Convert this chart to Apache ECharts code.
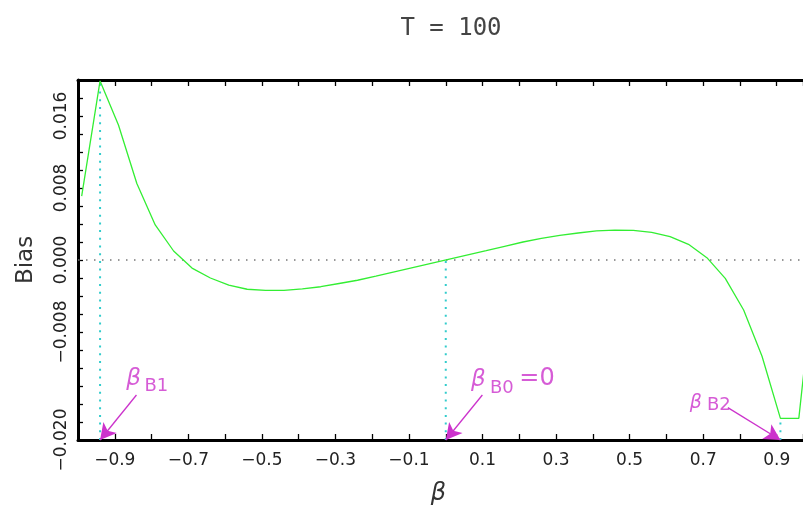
<!DOCTYPE html>
<html>
<head>
<meta charset="utf-8">
<script src="https://cdn.jsdelivr.net/npm/echarts@6/dist/echarts.min.js"></script>
<style>html,body{margin:0;padding:0;background:#fff;}#c{width:803px;height:511px;}</style>
</head>
<body>
<div id="c"></div>
<script>
// ---- data ----
const beta = [-0.99,-0.94,-0.89,-0.84,-0.79,-0.74,-0.69,-0.64,-0.59,-0.54,
  -0.49,-0.44,-0.39,-0.34,-0.29,-0.24,-0.19,-0.14,-0.09,-0.04,
  0.01,0.06,0.11,0.16,0.21,0.26,0.31,0.36,0.41,0.46,
  0.51,0.56,0.61,0.66,0.71,0.76,0.81,0.86,0.91,0.96,1.01];
const bias = [0.0071,0.0199,0.0150,0.0085,0.0039,0.0010,-0.0009,-0.0020,-0.0028,-0.00325,
  -0.00338,-0.00338,-0.0032,-0.00297,-0.00261,-0.00225,-0.0018,-0.00132,-0.00085,-0.00038,
  0.00009,0.00056,0.00103,0.00152,0.0020,0.0024,0.00273,0.0030,0.00323,0.00331,
  0.0033,0.00307,0.00259,0.00174,0.00026,-0.00204,-0.00556,-0.0107,-0.0176,-0.0176,0.0012];
const xLabelValues = [-0.9,-0.7,-0.5,-0.3,-0.1,0.1,0.3,0.5,0.7,0.9];
const yLabelValues = [-0.020,-0.008,0.000,0.008,0.016];
const roots = [
  {name:'B1', beta:-0.94, bias:0.0199, extra:''},
  {name:'B0', beta:0.00, bias:0.0, extra:'=0'},
  {name:'B2', beta:0.91, bias:-0.0176, extra:''}
];

const X_MIN=-1.0, X_MAX=0.9714, Y_MIN=-0.020, Y_MAX=0.020;
const MAG='#cc33cc';
const FONT='DejaVu Sans';
const minus = v => (v < -1e-12 ? '\u2212' : '');

const chart = echarts.init(document.getElementById('c'), null, {renderer:'canvas'});

// annotation placement (arrow tail and text anchors, data units)
const annot = [
  {tail:[-0.841,-0.0150], beta:[-0.849,-0.01322], sub:[-0.787,-0.01406], ext:null},
  {tail:[0.0995,-0.0150], beta:[0.0886,-0.01333], sub:[0.1526,-0.01422], ext:[0.248,-0.01322]},
  {tail:[0.767,-0.0164], beta:[0.680,-0.01589], sub:[0.7425,-0.01617], ext:null}
];

const textPts = [];
roots.forEach((r,i)=>{
  const a = annot[i];
  textPts.push({value:a.beta, label:{formatter:'\u03B2', fontSize: i===2?19:23, fontStyle:'italic'}});
  textPts.push({value:a.sub, label:{formatter:r.name, fontSize:18}});
  if (r.extra) textPts.push({value:a.ext, label:{formatter:r.extra, fontSize:24}});
});

const series = [
  {
    type:'line', name:'zero', data:[[X_MIN,0],[X_MAX,0]], symbol:'none', silent:true,
    lineStyle:{color:'#777', width:1.3, type:[1.5,6.5]}, z:1
  },
  ...roots.map(r=>({
    type:'line', data:[[r.beta,Y_MIN],[r.beta,r.bias]], symbol:'none', silent:true,
    lineStyle:{color:'#33cccc', width:2, type:[2,5.7]}, z:2
  })),
  {
    type:'line', name:'Bias', data: beta.map((b,i)=>[b,bias[i]]), symbol:'none',
    lineStyle:{color:'#33ee33', width:1.3}, z:3, clip:true,
    markLine:{
      silent:true, symbol:['none','arrow'], symbolSize:[13,16],
      lineStyle:{color:MAG, width:1.3, type:'solid'}, label:{show:false},
      data: roots.map((r,i)=>[{coord:annot[i].tail},{coord:[r.beta,Y_MIN]}])
    }
  },
  {
    type:'scatter', data:textPts, symbolSize:0, silent:true, z:5,
    label:{show:true, position:'inside', color:MAG, fontFamily:FONT}
  }
];

chart.setOption({
  animation:false,
  backgroundColor:'#fff',
  title:{text:'T = 100', left:446, top:12, textAlign:'center',
    textStyle:{fontFamily:'DejaVu Sans Mono', fontSize:24, fontWeight:'normal', color:'#444'}},
  grid:{left:78, top:80, right:0, height:360},
  xAxis:[{
    type:'value', min:X_MIN, max:X_MAX, interval:0.1, position:'bottom',
    name:'\u03B2', nameLocation:'start', nameGap:-368, nameTextStyle:{fontFamily:FONT, fontSize:24, fontStyle:'italic', color:'#333', verticalAlign:'top', padding:[42,0,0,0]},
    axisLine:{show:true, onZero:false, lineStyle:{color:'#000', width:3}},
    axisTick:{show:true, inside:true, length:6, lineStyle:{color:'#000', width:1.3}},
    splitLine:{show:false},
    axisLabel:{customValues:xLabelValues, margin:12, fontFamily:FONT, fontSize:17, color:'#222',
      formatter:v=>minus(v)+Math.abs(v).toFixed(1)}
  },{
    type:'value', min:X_MIN, max:X_MAX, interval:0.1, position:'top',
    axisLine:{show:true, onZero:false, lineStyle:{color:'#000', width:3}},
    axisTick:{show:true, inside:true, length:6, lineStyle:{color:'#000', width:1.3}},
    splitLine:{show:false}, axisLabel:{show:false}
  }],
  yAxis:{
    type:'value', min:Y_MIN, max:Y_MAX, interval:0.002,
    name:'Bias', nameLocation:'middle', nameGap:40, nameRotate:90,
    nameTextStyle:{fontFamily:FONT, fontSize:23, color:'#333'},
    axisLine:{show:true, onZero:false, lineStyle:{color:'#000', width:3}},
    axisTick:{show:true, inside:true, length:5, lineStyle:{color:'#000', width:1.3}},
    splitLine:{show:false},
    axisLabel:{customValues:yLabelValues, rotate:90, margin:8, fontFamily:FONT, fontSize:17, color:'#222',
      formatter:v=>minus(v)+Math.abs(v).toFixed(3)}
  },
  series: series
});
</script>
</body>
</html>
